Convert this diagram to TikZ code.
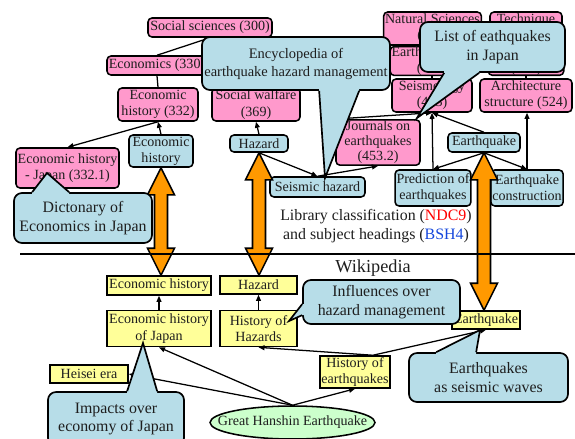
\documentclass[tikz,border=0pt]{standalone}
\usepackage{fontspec}
\setmainfont{Liberation Serif}
\usetikzlibrary{shapes.geometric, arrows.meta, positioning, calc}
\definecolor{ncpink}{RGB}{255,153,204}
\definecolor{nccyan}{RGB}{183,221,232}
\definecolor{ncyellow}{RGB}{255,255,153}
\definecolor{ncgreen}{RGB}{204,255,204}
\definecolor{ncorange}{RGB}{255,153,0}
\definecolor{ncred}{RGB}{255,0,0}
\definecolor{ncblue}{RGB}{20,70,220}
\definecolor{nctext}{RGB}{30,30,30}
\newcommand{\nodefont}{\fontsize{10}{11.5}\selectfont}
\newcommand{\calfont}{\fontsize{11.3}{13.5}\selectfont}
% orange two-headed arrow between two nodes
\newcommand{\dblarrow}[2]{%
  \draw[bigarrow] (#1) -- ++(13.5,27) -- ++(-7,0)
    -- ($(#1 |- #2)+(6.5,-27)$) -- ++(7,0) -- (#1 |- #2)
    -- ++(-13.5,-27) -- ++(7,0) -- ($(#1)+(-6.5,27)$) -- ++(-7,0) -- cycle;}
% pointer of a callout: base points, tip, inward shift
\newcommand{\tail}[4]{%
  \fill[calfill] (#1) -- (#3) -- (#2) -- ($(#2)+#4$) -- ($(#1)+#4$) -- cycle;
  \draw[calline] (#1) -- (#3) -- (#2);}
\tikzset{
  classbox/.style  = {rectangle, rounded corners=1mm, draw=black, line width=1.1pt,
                      fill=ncpink, text=nctext, align=center, inner sep=1pt,
                      font=\nodefont},
  headbox/.style   = {classbox, fill=nccyan},
  wikibox/.style   = {rectangle, draw=black, line width=1.1pt, fill=ncyellow,
                      text=nctext, align=center, inner sep=1pt, font=\nodefont},
  eventnode/.style = {ellipse, draw=black, line width=1.1pt, fill=ncgreen,
                      text=nctext, inner sep=0pt, font=\nodefont},
  callbox/.style   = {rectangle, rounded corners=2mm, draw=black, line width=1.2pt,
                      fill=nccyan, text=nctext, align=center, inner sep=1pt,
                      font=\calfont},
  calfill/.style   = {fill=nccyan},
  calline/.style   = {draw=black, line width=1.2pt, line join=miter},
  link/.style      = {-{Triangle[length=1.5mm,width=1.2mm]}, line width=0.9pt},
  plainlink/.style = {line width=0.9pt},
  bigarrow/.style  = {draw=black, line width=1.1pt, fill=ncorange, line join=miter},
  sepline/.style   = {line width=1.5pt},
}
\begin{document}
\begin{tikzpicture}[x=0.25mm, y=-0.25mm]
\useasboundingbox (0,0) rectangle (575,438);

% ---------- Library classification (NDC) ----------
\node[classbox, minimum width=31mm, minimum height=4.75mm] (socsci) at (210,27.5) {Social sciences (300)};
\node[classbox, minimum width=25mm, minimum height=4.75mm] (econ) at (157,65.5) {Economics (330)};
\node[classbox, minimum width=20mm, minimum height=8.25mm] (econhist) at (158,104.5) {Economic\\history (332)};
\node[classbox, minimum width=25.75mm, minimum height=10mm] (econjp) at (67.5,168) {Economic history\\- Japan (332.1)};
\node[classbox, minimum width=22mm, minimum height=8.25mm] (socwel) at (256,104.5) {Social walfare\\(369)};
\node[classbox, minimum width=21mm, minimum height=11.25mm, font=\fontsize{10}{10.6}\selectfont] (journals) at (378,142.5) {Journals on\\earthquakes\\(453.2)};
\node[classbox, minimum width=22.75mm, minimum height=8.25mm] (natsci) at (432.5,28.5) {Natural Sciences\\(400)};
\node[classbox, minimum width=20mm, inner ysep=0pt] (earthsci) at (432,61) {Earth sciences\\(450)};
\node[classbox, minimum width=20mm, minimum height=8.25mm] (seismo) at (432,95.5) {Seismology\\(453)};
\node[classbox, minimum width=18mm, minimum height=8.25mm] (tech) at (526,28.5) {Technique\\(500)};
\node[classbox, minimum width=18mm, inner ysep=0pt] (constr) at (526,61) {Construction\\(520)};
\node[classbox, minimum width=23mm, minimum height=8.25mm] (archi) at (526,95.5) {Architecture\\structure (524)};

% ---------- Subject headings (BSH) ----------
\node[headbox, minimum width=16mm, minimum height=8mm] (econsh) at (161,151) {Economic\\history};
\node[headbox, minimum width=14.5mm, minimum height=4.25mm] (hazsh) at (259,143.5) {Hazard};
\node[headbox, minimum width=23.75mm, minimum height=5mm] (seishaz) at (317.5,187) {Seismic hazard};
\node[headbox, minimum width=18mm, minimum height=4.75mm] (quakesh) at (484,142.5) {Earthquake};
\node[headbox, minimum width=17.5mm, minimum height=9mm] (predict) at (433,188) {Prediction of\\earthquakes};
\node[headbox, minimum width=15.5mm, minimum height=9mm] (quakecon) at (527,188) {Earthquake\\construction};

\node[font=\calfont, align=center, text=nctext] (libtext) at (376,226) {Library classification (\textcolor{ncred}{NDC9})\\and subject headings (\textcolor{ncblue}{BSH4})};
\node[font=\fontsize{13}{15}\selectfont, text=nctext] (wikitext) at (373,268) {Wikipedia};

% ---------- Wikipedia ----------
\node[wikibox, minimum width=26mm, minimum height=4.75mm] (wecon) at (159,285.5) {Economic history};
\node[wikibox, minimum width=26mm, minimum height=9mm, below=3.5mm of wecon] (wecjp) {Economic history\\of Japan};
\node[wikibox, minimum width=19.5mm, minimum height=4.5mm] (wheisei) at (89,374) {Heisei era};
\node[wikibox, minimum width=19.25mm, minimum height=4.5mm] (whaz) at (258.5,285) {Hazard};
\node[wikibox, minimum width=19.25mm, minimum height=9mm, below=3.75mm of whaz] (whhaz) {History of\\Hazards};
\node[wikibox, minimum width=17.5mm, minimum height=8mm] (whquake) at (355,372) {History of\\earthquakes};
\node[wikibox, minimum width=17mm, minimum height=4.5mm] (wquake) at (486,320) {Earthquake};
\node[eventnode, minimum width=41.25mm, minimum height=8.25mm] (hanshin) at (292.5,422.5) {\makebox[0pt]{Great Hanshin Earthquake}};

% ---------- Edges: classification ----------
\draw[plainlink] (econ.north) -- (socsci.south);
\draw[plainlink] (econhist.north) -- (econ.south);
\draw[link] (econsh.north) -- (econhist.south);
\draw[link] (econhist.south) -- (econjp.north);
\draw[link] (hazsh.north) -- (socwel.south);
\draw[link] (hazsh.south) -- (seishaz.north);
\draw[link] (seishaz.north) -- (journals.south);
\draw[link] (journals.north west) -- (seismo.south);
\draw[plainlink] (seismo.north) -- (earthsci.south);
\draw[plainlink] (archi.north) -- (constr.south);
\draw[link] (quakesh.north) -- (seismo.south);
\draw[link] (predict.north) -- (seismo.south);
\draw[link] (quakesh.south) -- (predict.north);
\draw[link] (quakesh.south) -- (quakecon.north);
\draw[link] (quakecon.north) -- (quakecon.north |- archi.south);

% ---------- Edges: Wikipedia ----------
\coordinate (whqtop) at ($(whquake.north)!0.5!(whquake.north east)$);
\draw[link] (wecjp.north) -- (wecon.south);
\draw[link] (whhaz.north) -- (whaz.south);
\draw[link] (hanshin.north) -- (wecjp.south);
\draw[link] (hanshin.north) -- (wheisei.east);
\draw[link] (hanshin.north) -- (whquake.south);
\draw[link] (whqtop) -- (whhaz.south);
\draw[link] (whqtop) -- (wquake.south);

% ---------- Correspondence arrows ----------
\dblarrow{econsh.south}{wecon.north}
\dblarrow{hazsh.south}{whaz.north}
\dblarrow{quakesh.south}{wquake.north}
\draw[sepline] (20,254) -- (575,254);

% ---------- Callouts ----------
\node[callbox, font=\fontsize{10.3}{12.8}\selectfont, minimum width=47mm, minimum height=13.25mm] (encyc) at (296,63.5) {Encyclopedia of\\earthquake hazard management};
\coordinate (encycA) at ($(encyc.south west)+(118,0)$);
\coordinate (encycB) at ($(encyc.south west)+(158,0)$);
\tail{encycA}{encycB}{325,178}{(0,-3)}

\node[callbox, minimum width=36.25mm, minimum height=12.5mm] (listjp) at (492.5,47) {List of eathquakes\\in Japan};
\coordinate (listjpA) at ($(listjp.south west)+(25,0)$);
\coordinate (listjpB) at ($(listjp.south west)+(60,0)$);
\tail{listjpA}{listjpB}{417,118}{(0,-3)}

\node[callbox, minimum width=34.5mm, minimum height=12.5mm] (dict) at (83,218) {Dictonary of\\Economics in Japan};
\coordinate (dictA) at ($(dict.north west)+(19,0)$);
\coordinate (dictB) at ($(dict.north west)+(56,0)$);
\tail{dictA}{dictB}{47,173}{(0,3)}

\node[callbox, minimum width=39.25mm, minimum height=11mm] (influ) at (381.5,302) {Influences over\\hazard management};
\coordinate (influA) at ($(influ.north west)+(0,25)$);
\coordinate (influB) at ($(influ.north west)+(0,36)$);
\tail{influA}{influB}{289,321}{(3,0)}

\node[callbox, minimum width=39.75mm, minimum height=12.25mm] (waves) at (488.5,377.5) {Earthquakes\\as seismic waves};
\coordinate (wavesA) at ($(waves.north west)+(28,0)$);
\coordinate (wavesB) at ($(waves.north west)+(68,0)$);
\tail{wavesA}{wavesB}{480,330}{(0,3)}

\node[callbox, minimum width=34mm, minimum height=13.5mm] (impacts) at (116,419) {Impacts over\\economy of Japan};
\coordinate (impactsA) at ($(impacts.north west)+(80,0)$);
\coordinate (impactsB) at ($(impacts.north west)+(110,0)$);
\tail{impactsA}{impactsB}{143,343}{(0,3)}

\end{tikzpicture}
\end{document}
